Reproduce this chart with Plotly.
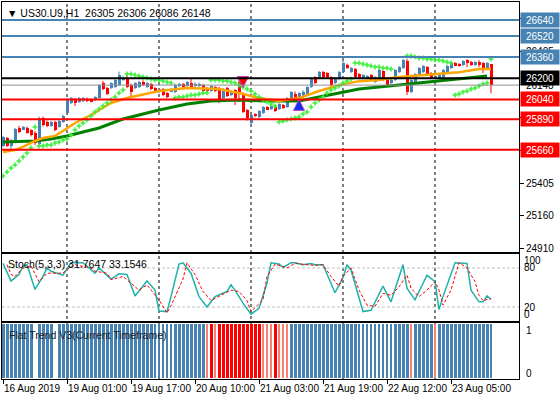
import plotly.graph_objects as go

BULL = "#4682B4"
BEAR = "#FF0000"
SALMON = "#FA8072"
FONT = "Liberation Sans"

# H1 bars, index 0 = first visible bar (16 Aug 2019)
opens = [25688, 25748, 25688, 25718, 25824, 25816, 25824, 25808, 25786, 25705,
         25899, 25869, 25839, 25869, 25831, 25869, 25937, 26012, 26043, 26020,
         26025, 26045, 26040, 26035, 26050, 26163, 26126, 26126, 26133, 26148,
         26190, 26201, 26148, 26126, 26133, 26171, 26133, 26156, 26126, 26095,
         26118, 26088, 26103, 26095, 26140, 26156, 26140, 26163, 26140, 26140,
         26148, 26126, 26103, 26133, 26126, 26050, 26126, 26073, 26110, 26171,
         26080, 25959, 25861, 25925, 25907, 25937, 25982, 25967, 25982, 25967,
         25997, 25982, 26043, 26080, 26050, 26060, 26073, 26133, 26209, 26201,
         26246, 26239, 26209, 26163, 26193, 26246, 26299, 26246, 26270, 26231,
         26205, 26201, 26224, 26171, 26201, 26254, 26201, 26163, 26186, 26246,
         26277, 26330, 26095, 26171, 26224, 26246, 26284, 26239, 26205, 26201,
         26209, 26246, 26277, 26314, 26306, 26299, 26337, 26322, 26299, 26320,
         26314, 26268, 26305]
highs = [25765, 25756, 25740, 25825, 25840, 25840, 25835, 25815, 25800, 25910,
         25910, 25880, 25878, 25878, 25885, 25925, 26050, 26058, 26050, 26058,
         26060, 26055, 26048, 26065, 26155, 26180, 26135, 26170, 26195, 26250,
         26215, 26230, 26160, 26170, 26180, 26185, 26170, 26165, 26133, 26126,
         26126, 26095, 26126, 26160, 26165, 26163, 26178, 26201, 26170, 26168,
         26156, 26133, 26148, 26140, 26135, 26126, 26135, 26110, 26118, 26201,
         26095, 25967, 25930, 25935, 25960, 25990, 25990, 25997, 25990, 26012,
         26005, 26058, 26103, 26100, 26095, 26110, 26140, 26209, 26216, 26255,
         26255, 26246, 26216, 26209, 26255, 26330, 26310, 26285, 26277, 26239,
         26231, 26224, 26231, 26216, 26270, 26261, 26209, 26193, 26270, 26292,
         26345, 26345, 26193, 26239, 26285, 26299, 26292, 26246, 26224, 26231,
         26270, 26299, 26322, 26322, 26314, 26337, 26345, 26330, 26330, 26337,
         26322, 26322, 26306]
lows = [25680, 25680, 25665, 25710, 25785, 25808, 25780, 25760, 25695, 25695,
        25835, 25830, 25832, 25800, 25825, 25862, 25930, 26005, 25990, 26012,
        26018, 26020, 26018, 26028, 26045, 26110, 26073, 26118, 26126, 26140,
        26180, 26125, 26050, 26118, 26126, 26140, 26126, 26110, 26088, 26088,
        26065, 26050, 26095, 26088, 26133, 26126, 26133, 26126, 26133, 26133,
        26095, 26095, 26095, 26095, 26012, 26043, 26058, 26065, 25997, 26020,
        25937, 25880, 25850, 25905, 25900, 25930, 25960, 25960, 25945, 25960,
        25967, 25975, 26035, 26040, 25960, 26050, 26065, 26126, 26155, 26195,
        26200, 26201, 26126, 26155, 26186, 26239, 26270, 26239, 26201, 26193,
        26198, 26193, 26178, 26163, 26193, 26178, 26140, 26155, 26178, 26239,
        26270, 26073, 26088, 26163, 26216, 26239, 26224, 26193, 26198, 26193,
        26201, 26239, 26270, 26292, 26288, 26292, 26284, 26292, 26292, 26284,
        26240, 26261, 26086]
closes = [25756, 25688, 25733, 25816, 25793, 25831, 25786, 25771, 25710, 25899,
          25846, 25839, 25869, 25808, 25876, 25914, 26043, 26050, 26012, 26050,
          26052, 26028, 26025, 26058, 26148, 26118, 26080, 26163, 26186, 26224,
          26205, 26133, 26095, 26163, 26171, 26148, 26163, 26118, 26095, 26118,
          26073, 26058, 26118, 26148, 26156, 26133, 26171, 26133, 26160, 26160,
          26103, 26103, 26140, 26103, 26043, 26118, 26065, 26103, 26050, 26095,
          25945, 25899, 25922, 25918, 25952, 25982, 25967, 25990, 25952, 26005,
          25975, 26050, 26095, 26050, 26085, 26095, 26133, 26201, 26163, 26246,
          26209, 26209, 26148, 26201, 26246, 26314, 26277, 26277, 26209, 26201,
          26224, 26216, 26186, 26209, 26261, 26186, 26148, 26186, 26261, 26284,
          26337, 26095, 26186, 26231, 26277, 26292, 26231, 26201, 26216, 26224,
          26261, 26292, 26314, 26299, 26295, 26330, 26314, 26299, 26322, 26305,
          26261, 26314, 26148]

# moving averages (bar index, price)
ma_fast_idx = [0, 3, 5, 8, 10, 13, 15, 18, 22, 24, 27, 31, 39, 46, 54, 59, 64, 69,
               74, 79, 84, 89, 94, 99, 107, 114, 119, 122]
ma_fast_val = [25643, 25658, 25681, 25726, 25749, 25764, 25801, 25862, 25922, 25960,
               26013, 26050, 26103, 26126, 26118, 26088, 26050, 26028, 26050, 26103,
               26148, 26178, 26186, 26209, 26231, 26246, 26269, 26269]
ma_slow_idx = [0, 8, 12, 16, 20, 24, 30, 39, 46, 52, 59, 66, 74, 79, 84, 89, 94, 99,
               104, 109, 114, 119, 121]
ma_slow_val = [25718, 25726, 25741, 25764, 25794, 25824, 25892, 25960, 26005, 26028,
               26035, 26028, 26028, 26058, 26088, 26118, 26133, 26148, 26163, 26178,
               26193, 26209, 26216]

# parabolic SAR, one value per bar (None where not visible)
sar = [25461, 25492, 25522, 25545, 25575, 25605, 25635, 25673, 25832, 25688,
       25688, 25696, 25696, 25711, 25718, 25733, 25741, 25771, 25809, 25839,
       25862, 25885, 25915, 25945, 25968, 25990, 26013, 26036, 26058, 26089,
       26111, 26232, 26232, 26225, 26217, 26209, 26202, 26194, 26187, 26187,
       26179, 26172, 26164, 26051, 26058, 26058, 26066, 26073, 26073, 26081,
       26089, 26089, 26187, 26187, 26187, 26179, 26179, 26172, 26164, 26149,
       26134, 26119, 26104, 26081, 26058, 26036, 26021, 26005, 25990, 25869,
       25877, 25885, 25892, 25900, 25907, 25930, 25945, 25983, 26013, 26036,
       26058, 26089, 26111, 26126, 26141, 26164, 26179, 26194, 26315, 26315,
       26308, 26300, 26293, 26285, 26285, 26277, 26277, 26270, None, None,
       None, 26368, 26368, 26361, 26353, 26353, 26345, 26345, 26338, 26338,
       26330, 26323, 26315, 26073, 26081, 26095, 26104, 26119, 26126, 26141,
       26157, 26164, 26345]

# signal arrows on the chart
arrow_idx = [60, 74]
arrow_price = [26130, 26040]
arrow_symbol = ["arrow-down", "arrow-up"]
arrow_color = ["#FF0000", "#1030F0"]

# horizontal levels
level_prices = [26640, 26520, 26360, 26200, 26040, 25890, 25660]
level_colors = [BULL, BULL, BULL, "#000000", BEAR, BEAR, BEAR]
bid_price = 26148
price_ticks = [24910, 25160, 25405, 25655, 25900, 26150, 26405, 26650]

# stochastic (5,3,3)
stoch_k_idx = [0, 2, 4, 5, 6, 8, 10, 11, 12, 15, 17, 20, 23, 24, 27, 29, 31, 33, 36, 38,
               39, 41, 42, 44, 45, 47, 49, 51, 53, 56, 57, 58, 60, 62, 64, 66, 67, 69, 70, 72,
               73, 75, 77, 78, 80, 83, 85, 86, 87, 90, 92, 95, 97, 100, 101, 103, 106, 108,
               109, 110, 113, 115, 116, 117, 119, 120, 121, 122]
stoch_k = [87, 60, 70, 83, 85, 47, 67, 80, 75, 69, 88, 88, 72, 80, 63, 71, 70, 37, 60, 46,
           14, 13, 36, 86, 88, 72, 36, 20, 36, 44, 54, 46, 26, 9, 18, 57, 88, 86, 81, 88,
           88, 85, 87, 85, 85, 42, 65, 85, 77, 13, 15, 52, 28, 85, 49, 31, 69, 59,
           16, 36, 88, 88, 87, 46, 28, 28, 37, 32]
stoch_d_idx = [1, 2, 3, 5, 7, 9, 11, 15, 16, 18, 22, 23, 26, 27, 30, 32, 34, 36, 39, 41,
               42, 45, 46, 48, 50, 52, 54, 57, 59, 61, 62, 65, 66, 68, 71, 73, 76, 78, 80, 82,
               84, 85, 87, 89, 91, 93, 95, 97, 99, 101, 102, 104, 106, 108, 109, 110, 112,
               114, 116, 118, 119, 120, 122]
stoch_d = [85, 70, 67, 80, 83, 59, 72, 72, 78, 85, 80, 75, 72, 62, 67, 57, 46, 54, 31, 11,
           22, 63, 88, 70, 44, 30, 36, 46, 44, 30, 13, 31, 67, 86, 80, 87, 85, 84, 85, 67,
           52, 67, 80, 46, 23, 21, 41, 38, 51, 69, 49, 36, 46, 59, 46, 23, 46,
           88, 80, 59, 38, 30, 33]

# Flat Trend V3 histogram: runs of (state, bar count)
# B = trend up (wide), b = flat up (thin), R = trend down (wide), r = flat down (thin)
flat_runs = [("B", 8), ("", 1), ("B", 4), ("", 1), ("B", 24), ("b", 5), ("B", 8),
             ("r", 1), ("R", 1), ("r", 1), ("R", 11), ("r", 3), ("R", 1), ("r", 3),
             ("B", 17), ("b", 9), ("B", 4), ("r", 1), ("B", 5), ("r", 1), ("B", 13), ("b", 1)]
flat_level = 1

sep_idx = [16, 39, 62, 85, 108]
time_idx = [0, 16, 32, 48, 64, 80, 96, 112]
time_labels = ["16 Aug 2019", "19 Aug 01:00", "19 Aug 17:00", "20 Aug 10:00",
               "21 Aug 03:00", "21 Aug 19:00", "22 Aug 12:00", "23 Aug 05:00"]

bars = list(range(len(opens)))
fig = go.Figure()

# candles: wicks then bodies
for up, color in ((True, BULL), (False, BEAR)):
    ids = [i for i in bars if (closes[i] >= opens[i]) == up]
    wx, wy = [], []
    for i in ids:
        wx += [i, i, None]
        wy += [lows[i], highs[i], None]
    fig.add_trace(go.Scatter(x=wx, y=wy, mode="lines", line=dict(color=color, width=1),
                             hoverinfo="skip"))
    fig.add_trace(go.Bar(
        x=ids,
        y=[max(abs(closes[i] - opens[i]), 7) for i in ids],
        base=[min(opens[i], closes[i]) for i in ids],
        width=0.75, marker=dict(color=color, line=dict(width=0)),
    ))

fig.add_trace(go.Scatter(x=ma_slow_idx, y=ma_slow_val, mode="lines",
                         line=dict(color="#008000", width=3)))
fig.add_trace(go.Scatter(x=ma_fast_idx, y=ma_fast_val, mode="lines",
                         line=dict(color="#FFA500", width=2.5)))
fig.add_trace(go.Scatter(x=bars, y=sar, mode="markers",
                         marker=dict(symbol="cross-thin", size=3.5,
                                     line=dict(width=1.5, color="#3CF03C"))))
fig.add_trace(go.Scatter(x=arrow_idx, y=arrow_price, mode="markers",
                         marker=dict(symbol=arrow_symbol, size=11, color=arrow_color,
                                     line=dict(width=1, color="#C040C0"))))

# stochastic
fig.add_trace(go.Scatter(x=stoch_k_idx, y=stoch_k, mode="lines", xaxis="x2", yaxis="y2",
                         line=dict(color="#20B2AA", width=1.5)))
fig.add_trace(go.Scatter(x=stoch_d_idx, y=stoch_d, mode="lines", xaxis="x2", yaxis="y2",
                         line=dict(color="#FF0000", width=1, dash="3px,2px")))

# flat trend histogram
states = []
for s, n in flat_runs:
    states += [s] * n
for code, color, w in (("B", BULL, 0.75), ("b", BULL, 0.3), ("R", BEAR, 0.75), ("r", SALMON, 0.3)):
    ids = [i for i in bars if states[i] == code]
    fig.add_trace(go.Bar(x=ids, y=[flat_level] * len(ids), width=w, xaxis="x3", yaxis="y3",
                         marker=dict(color=color, line=dict(width=0))))

shapes = []
for i in sep_idx:
    shapes.append(dict(type="line", xref="x", yref="paper", x0=i, x1=i, y0=0, y1=1,
                       line=dict(color="#000000", width=1, dash="3px,3px"), layer="below"))
for v in (20, 80):
    shapes.append(dict(type="line", xref="paper", yref="y2", x0=0, x1=1, y0=v, y1=v,
                       line=dict(color="#C0C0C0", width=1, dash="3px,2px"), layer="below"))
shapes.append(dict(type="line", xref="paper", yref="y", x0=0, x1=1, y0=bid_price, y1=bid_price,
                   line=dict(color="#909090", width=1), layer="above"))
for p, c in zip(level_prices, level_colors):
    shapes.append(dict(type="line", xref="paper", yref="y", x0=0, x1=1, y0=p, y1=p,
                       line=dict(color=c, width=2), layer="above"))

ann = [
    dict(text="▼ US30.U9,H1  26305 26306 26086 26148", xref="paper", yref="paper",
         x=0, y=1, xanchor="left", yanchor="top", xshift=3, yshift=-3,
         font=dict(size=10.5, color="#000000")),
    dict(text="Stoch(5,3,3) 31.7647 33.1546", xref="paper", yref="y2 domain",
         x=0, y=1, xanchor="left", yanchor="top", xshift=4, yshift=-2,
         font=dict(size=10.5, color="#000000")),
    dict(text="Flat Trend V3(Current Timeframe)", xref="paper", yref="y3 domain",
         x=0, y=1, xanchor="left", yanchor="top", xshift=5, yshift=-4,
         font=dict(size=10.5, color="#202020")),
]
for txt, v, ys in (("100", 100, -6), ("80", 80, 0), ("20", 20, 0), ("0", 0, 6)):
    ann.append(dict(text=txt, xref="paper", yref="y2", x=1, y=v, xanchor="left",
                    xshift=3, yshift=ys, font=dict(size=10, color="#000000")))
for txt, v, ys in (("1", 1, -6), ("0", 0, 5)):
    ann.append(dict(text=txt, xref="paper", yref="y3", x=1, y=v, xanchor="left",
                    xshift=5, yshift=ys, font=dict(size=10, color="#000000")))
ann.append(dict(text=str(bid_price), xref="paper", yref="y", x=1, y=bid_price, xanchor="left",
                xshift=1, width=36, height=12, bgcolor="#FFFFFF",
                font=dict(size=10, color="#000000")))
for p, c in zip(level_prices, level_colors):
    ann.append(dict(text=str(p), xref="paper", yref="y", x=1, y=p, xanchor="left",
                    xshift=1, width=36, height=12, bgcolor=c,
                    font=dict(size=10, color="#FFFFFF")))
for a in ann:
    a["showarrow"] = False

frame = dict(showline=True, mirror=True, linecolor="#000000", linewidth=1,
             showgrid=False, zeroline=False, automargin=False)

fig.update_layout(
    width=560, height=400,
    margin=dict(l=2, r=41, t=2, b=21),
    paper_bgcolor="#FFFFFF", plot_bgcolor="#FFFFFF",
    font=dict(family=FONT, size=10, color="#000000"),
    showlegend=False, barmode="overlay", bargap=0,
    xaxis=dict(domain=[0, 1], anchor="y", range=[-0.25, 129], showticklabels=False,
               ticks="", **frame),
    xaxis2=dict(domain=[0, 1], anchor="y2", matches="x", showticklabels=False,
                ticks="", **frame),
    xaxis3=dict(domain=[0, 1], anchor="y3", matches="x", tickmode="array",
                tickvals=time_idx, ticktext=time_labels, ticks="outside", ticklen=4,
                tickcolor="#000000", ticklabelposition="outside right", tickangle=0,
                tickfont=dict(size=10), **frame),
    yaxis=dict(domain=[0.3369, 1], anchor="x", side="right", range=[24887, 26776],
               tickmode="array", tickvals=price_ticks,
               ticktext=[str(t) for t in price_ticks], ticks="outside", ticklen=4,
               tickcolor="#000000", tickfont=dict(size=10), **frame),
    yaxis2=dict(domain=[0.1538, 0.3316], anchor="x2", side="right", range=[-1.5, 101.5],
                showticklabels=False, ticks="", **frame),
    yaxis3=dict(domain=[0, 0.1485], anchor="x3", side="right", range=[-0.0185, 1.0185],
                showticklabels=False, ticks="", **frame),
    shapes=shapes,
    annotations=ann,
)

fig.write_html("out.html", config={"displayModeBar": False},
               post_script="document.body.style.margin='0';")
